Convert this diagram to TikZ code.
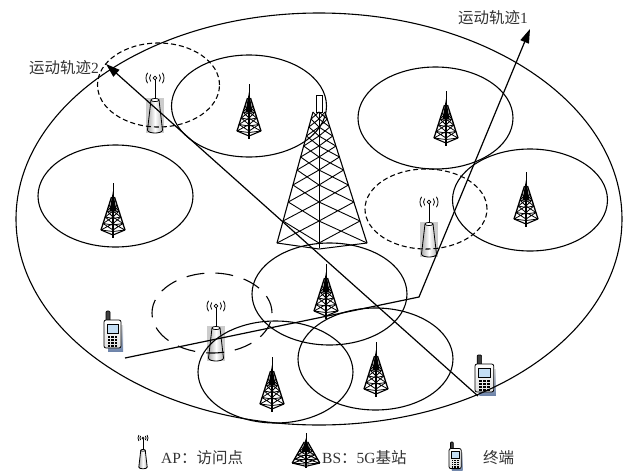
\documentclass[tikz,border=0pt]{standalone}
\usepackage{fontspec}
\setmainfont{Liberation Serif}
\newfontfamily\cjk{Noto Sans CJK SC}
\usetikzlibrary{shapes.geometric,arrows.meta}

\definecolor{phoneback}{RGB}{110,132,170}
\definecolor{screenblue}{RGB}{196,222,244}

\tikzset{
  % small lattice tower, apex at the origin, feet 55 below
  bstower/.pic={
    \draw[line width=1pt] (0,0) -- (0,16);
    \fill (0,8) -- (-3.6,28) -- (3.6,28) -- cycle;
    \draw[line width=1.3pt] (-1.5,14) -- (-12,47) (1.5,14) -- (12,47);
    \draw[line width=1.1pt] (0,14) -- (0,55);
    \draw[line width=1.1pt] (-12,47) -- (0,52) -- (12,47);
    \foreach \a/\xa/\b/\xb in {22/4.05/28/5.95, 28/5.95/34/7.86, 34/7.86/40.5/9.93, 40.5/9.93/47/12}{
      \draw[line width=0.8pt] (-\xa,\a) -- (0,\b) -- (\xa,\a)
        (-\xb,\b) -- (0,\a) -- (\xb,\b)
        (-\xb,\b) -- (0,\b+1.5) -- (\xb,\b);
    }
  },
  % access point, origin at the centre of the waves
  apbox/.style={fill=gray!40},
  apnode/.pic={
    \fill[apbox] (-9,20) rectangle (9,55);
    \shadedraw[left color=gray!65, right color=gray!55, middle color=white, line width=0.8pt]
      (-4,22) -- (-7.5,52) .. controls (-7.5,56) and (7.5,56) .. (7.5,52) -- (4,22) -- cycle;
    \draw[line width=0.7pt, fill=white] (0,22) ellipse [x radius=4pt, y radius=1.6pt];
    \draw[line width=0.9pt] (0,2) -- (0,20.4);
    \draw[line width=0.7pt] (0,0) circle [radius=1.8pt];
    \draw[line width=0.8pt] ([shift={(-40:5.5pt)}]0,0) arc [start angle=-40, end angle=40, radius=5.5pt];
    \draw[line width=0.8pt] ([shift={(140:5.5pt)}]0,0) arc [start angle=140, end angle=220, radius=5.5pt];
    \draw[line width=0.8pt] ([shift={(-35:9pt)}]0,0) arc [start angle=-35, end angle=35, radius=9pt];
    \draw[line width=0.8pt] ([shift={(145:9pt)}]0,0) arc [start angle=145, end angle=215, radius=9pt];
  },
  % handset, origin at the top left corner
  phone/.pic={
    \shade[top color=gray!25, bottom color=phoneback] (4,14) rectangle (19,40);
    \draw[line width=0.7pt, fill=black!75, rounded corners=1pt] (2,0) rectangle (6,11);
    \draw[line width=0.8pt, top color=white, bottom color=gray!25, rounded corners=2pt] (0,9) rectangle (17,37);
    \draw[line width=0.6pt, fill=screenblue] (3,13) rectangle (14,22);
    \foreach \i in {0,1,2}
      \foreach \j in {0,1,2,3}
        \fill (3.6+\i*3.6,24.5+\j*3) rectangle ++(2.4,2);
  }
}

\begin{document}
\begin{tikzpicture}[x=1pt, y=-1pt,
  every node/.style={font=\fontsize{15.5}{18}\selectfont, text=black!80, inner sep=0pt},
  cell/.style={draw, line width=1.1pt, ellipse, minimum width=155pt, minimum height=102pt},
  apcell/.style={cell, dash pattern=on 5pt off 3pt, minimum width=122pt, minimum height=84pt},
  track/.style={line width=1.2pt, -{Triangle[length=14pt, width=9pt]}}
]
\useasboundingbox (0,0) rectangle (625,472);

% terminals and access points
\pic at (104,311) {phone};
\pic[xscale=1.1] at (475,355) {phone};
\pic at (155,78) {apnode};
\pic at (429,202) {apnode};
\pic at (216,306) {apnode};

% 5G base stations
\pic at (249,84) {bstower};
\pic at (113,183) {bstower};
\pic at (446,91) {bstower};
\pic at (526,172) {bstower};
\pic at (326,264) {bstower};
\pic at (272,357) {bstower};
\pic at (376,342) {bstower};

% macro station in the middle
\draw[line width=0.9pt] (316,95) rectangle (322,112);
\draw[line width=1.1pt] (313,112) -- (277,243) (325,112) -- (367,243);
\draw[line width=1pt] (319,112) -- (319,248);
\draw[line width=1pt] (277,243) -- (319,249) -- (367,243);
\foreach \a/\b in {112/119,119/127,127/136,136/146,146/157,157/170,170/185,185/202,202/221,221/243}{
  \pgfmathsetmacro\la{313-36*(\a-112)/131}
  \pgfmathsetmacro\ra{325+42*(\a-112)/131}
  \pgfmathsetmacro\lb{313-36*(\b-112)/131}
  \pgfmathsetmacro\rb{325+42*(\b-112)/131}
  \draw[line width=0.9pt] (\la,\a) -- (319,\b) -- (\ra,\a) (\lb,\b) -- (319,\a) -- (\rb,\b);
}

% coverage areas
\node[cell, minimum width=606pt, minimum height=412pt] (area) at (319,219) {};
\node[cell] (cellA) at (249,106) {};
\node[cell] (cellB) at (115.5,196) {};
\node[cell] (cellC) at (435.5,118) {};
\node[cell] (cellD) at (530,200) {};
\node[cell] (cellE) at (329.5,294) {};
\node[cell] (cellF) at (275.5,372) {};
\node[cell] (cellG) at (375.5,359) {};
\node[apcell] (apA) at (158.5,85) {};
\node[apcell, minimum height=80pt] (apB) at (426,209) {};
\node[apcell, dash pattern=on 18pt off 11pt, minimum width=120pt, minimum height=80pt] (apC) at (212,313) {};

% movement tracks
\coordinate (tail1) at (125,358);
\coordinate (bend1) at (419,297);
\coordinate (tip1) at (530,29);
\coordinate (tail2) at (478,396);
\coordinate (tip2) at (106,64);
\draw[track] (tail1) -- (bend1) -- (tip1);
\draw[track] (tail2) -- (tip2);
\node (lbl1) at (493,18) {{\cjk 运动轨迹}1};
\node[anchor=east] (lbl2) at (99,68) {{\cjk 运动轨迹}2};

% legend
\pic[scale=0.56, apbox/.style={fill=none}] at (143,438) {apnode};
\node[anchor=west] (legAP) at (161,458) {AP{\cjk ：访问点}};
\pic[xscale=1.15, yscale=0.64] at (306,433) {bstower};
\node[anchor=west] (legBS) at (322,458) {BS{\cjk ：}5G{\cjk 基站}};
\pic[scale=0.72] at (449,442) {phone};
\node[anchor=west] (legUE) at (483,458) {{\cjk 终端}};
\end{tikzpicture}
\end{document}
